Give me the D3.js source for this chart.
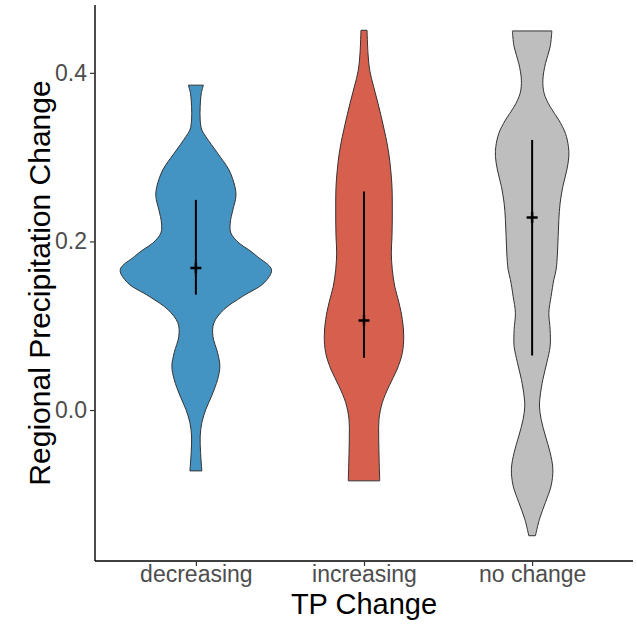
<!DOCTYPE html>
<html>
<head>
<meta charset="utf-8">
<script src="https://cdn.jsdelivr.net/npm/d3@7"></script>
<style>
  html, body { margin: 0; padding: 0; background: #fff; }
  svg { display: block; font-family: "Liberation Sans", Arial, sans-serif; }
</style>
</head>
<body>
<svg id="chart" width="637" height="624"></svg>
<script>
// ---- data ----
const categories = ["decreasing", "increasing", "no change"];
const fillColors = ["#4393C3", "#D6604D", "#BEBEBE"];

// violin profiles: value (y) and relative half-width (1 = widest violin)
const decreasingY = [0.3854, 0.375, 0.36, 0.344, 0.3322, 0.3243, 0.3046, 0.2849, 0.2651, 0.2533, 0.2375, 0.2218, 0.2099, 0.1981, 0.19, 0.1822, 0.1665, 0.1508, 0.1349, 0.1192, 0.1034, 0.0876, 0.0679, 0.0521, 0.0363, 0.0166, 0.0008, -0.0149, -0.0308, -0.0504, -0.0722];
const decreasingW = [0.099, 0.07, 0.057, 0.057, 0.079, 0.132, 0.287, 0.437, 0.516, 0.529, 0.489, 0.454, 0.463, 0.569, 0.70, 0.81, 1.0, 0.9, 0.618, 0.37, 0.238, 0.225, 0.287, 0.317, 0.287, 0.208, 0.132, 0.079, 0.057, 0.062, 0.079];

const increasingY = [0.4505, 0.4229, 0.4032, 0.3834, 0.3638, 0.344, 0.3243, 0.3046, 0.2849, 0.2651, 0.2454, 0.2257, 0.2059, 0.1863, 0.1665, 0.1467, 0.1271, 0.1073, 0.0876, 0.0679, 0.0482, 0.0284, 0.0088, -0.011, -0.0308, -0.0504, -0.084];
const increasingW = [0.04, 0.053, 0.075, 0.128, 0.185, 0.238, 0.287, 0.327, 0.353, 0.37, 0.374, 0.374, 0.37, 0.361, 0.374, 0.406, 0.463, 0.507, 0.525, 0.507, 0.437, 0.331, 0.242, 0.198, 0.194, 0.198, 0.208];

const noChangeY = [0.4497, 0.4308, 0.4111, 0.3914, 0.3756, 0.3598, 0.344, 0.3283, 0.3124, 0.3006, 0.2849, 0.2651, 0.2454, 0.2257, 0.2059, 0.1863, 0.1665, 0.1547, 0.1349, 0.1153, 0.0955, 0.0757, 0.0561, 0.0363, 0.0166, 0.0047, -0.011, -0.0308, -0.0504, -0.0702, -0.0899, -0.1096, -0.1294, -0.1491];
const noChangeW = [0.261, 0.238, 0.176, 0.142, 0.159, 0.238, 0.353, 0.44, 0.48, 0.485, 0.459, 0.406, 0.37, 0.353, 0.344, 0.335, 0.317, 0.287, 0.251, 0.221, 0.238, 0.238, 0.194, 0.142, 0.106, 0.097, 0.119, 0.176, 0.238, 0.274, 0.251, 0.176, 0.097, 0.044];

// summary (range line + point)
const summaryLower = [0.1369, 0.062, 0.0647];
const summaryMiddle = [0.1685, 0.1062, 0.2284];
const summaryUpper = [0.2493, 0.2592, 0.3204];

const yTicks = [0.0, 0.2, 0.4];

// ---- layout ----
const panel = { left: 95, right: 633, top: 5, bottom: 561 };
const svg = d3.select("#chart");

const profiles = [
  d3.zip(decreasingY, decreasingW),
  d3.zip(increasingY, increasingW),
  d3.zip(noChangeY, noChangeW)
];

const allY = decreasingY.concat(increasingY, noChangeY);
const yMin = d3.min(allY), yMax = d3.max(allY);
const pad = (yMax - yMin) * 0.05;

const y = d3.scaleLinear().domain([yMin - pad, yMax + pad]).range([panel.bottom, panel.top]);
const x = d3.scalePoint().domain(categories).range([panel.left, panel.right]).padding(0.6);
const halfMax = x.step() * 0.45;
const w = d3.scaleLinear().domain([0, 1]).range([0, halfMax]);

// violins
categories.forEach((cat, i) => {
  const cx = x(cat);
  const pts = profiles[i].slice().sort((a, b) => a[0] - b[0]);
  const area = d3.area()
    .y(d => y(d[0]))
    .x0(d => cx - w(d[1]))
    .x1(d => cx + w(d[1]))
    .curve(d3.curveCatmullRom.alpha(0.5));
  svg.append("path")
    .attr("d", area(pts))
    .attr("fill", fillColors[i])
    .attr("stroke", "#333333")
    .attr("stroke-width", 1);
});

// summaries
categories.forEach((cat, i) => {
  const cx = x(cat);
  svg.append("line")
    .attr("x1", cx).attr("x2", cx)
    .attr("y1", y(summaryLower[i])).attr("y2", y(summaryUpper[i]))
    .attr("stroke", "#000").attr("stroke-width", 2);
  const cy = y(summaryMiddle[i]);
  svg.append("path")
    .attr("d", `M${cx - 5.5},${cy}H${cx + 5.5}M${cx},${cy - 5.5}V${cy + 5.5}`)
    .attr("stroke", "#000").attr("stroke-width", 2.5).attr("fill", "none");
});

// axes
const yAxis = svg.append("g")
  .attr("transform", `translate(${panel.left},0)`)
  .call(d3.axisLeft(y).tickValues(yTicks).tickFormat(d3.format(".1f")).tickSizeInner(5).tickSizeOuter(0).tickPadding(3));
yAxis.select(".domain").attr("d", `M0,${panel.top}V${panel.bottom}`);

const xAxis = svg.append("g")
  .attr("transform", `translate(0,${panel.bottom})`)
  .call(d3.axisBottom(x).tickSizeInner(5).tickSizeOuter(0).tickPadding(0));
xAxis.select(".domain").attr("d", `M${panel.left},0H${panel.right}`);

[yAxis, xAxis].forEach(g => {
  g.select(".domain").attr("stroke", "#000").attr("stroke-width", 1.4);
  g.selectAll(".tick line").attr("stroke", "#333").attr("stroke-width", 1.2);
  g.selectAll(".tick text").attr("fill", "#4D4D4D").style("font-size", "23px")
    .style("font-family", "'Liberation Sans', Arial, sans-serif");
});

// titles
svg.append("text")
  .attr("x", (panel.left + panel.right) / 2)
  .attr("y", 614)
  .attr("text-anchor", "middle")
  .style("font-size", "29px")
  .attr("fill", "#000")
  .text("TP Change");

svg.append("text")
  .attr("transform", `translate(50,${(panel.top + panel.bottom) / 2}) rotate(-90)`)
  .attr("text-anchor", "middle")
  .style("font-size", "30px")
  .attr("fill", "#000")
  .text("Regional Precipitation Change");
</script>
</body>
</html>
